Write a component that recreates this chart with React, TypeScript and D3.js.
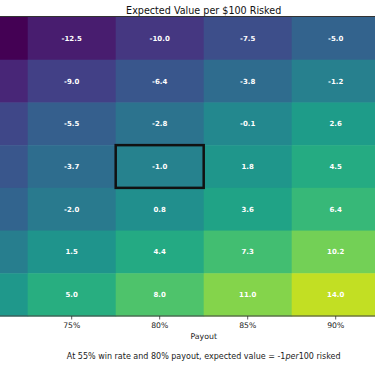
import * as d3 from "d3";

// payout columns (70% and 95% sit partly/fully outside the visible frame)
const payouts = ["70%", "75%", "80%", "85%", "90%", "95%"];
const winRates = ["50%", "52%", "54%", "55%", "56%", "58%", "60%"];

// expected value per $100, one array per win-rate row
const ev50 = [-15.0, -12.5, -10.0, -7.5, -5.0, -2.5];
const ev52 = [-11.6, -9.0, -6.4, -3.8, -1.2, 1.4];
const ev54 = [-8.2, -5.5, -2.8, -0.1, 2.6, 5.3];
const ev55 = [-6.5, -3.7, -1.0, 1.8, 4.5, 7.2];
const ev56 = [-4.8, -2.0, 0.8, 3.6, 6.4, 9.2];
const ev58 = [-1.4, 1.5, 4.4, 7.3, 10.2, 13.1];
const ev60 = [2.0, 5.0, 8.0, 11.0, 14.0, 17.0];
const rows = [ev50, ev52, ev54, ev55, ev56, ev58, ev60];

const highlight = { payout: "80%", winRate: "55%" };

const W = 375;
const H = 366;
const font = "'DejaVu Sans', sans-serif";

export default function App() {
  const x = d3.scaleBand<string>().domain(payouts).range([-60.3, 467.7]);
  const y = d3.scaleBand<string>().domain(winRates).range([17, 316]);
  const color = d3.scaleSequential(d3.interpolateViridis).domain([-15, 17]);
  const cx = (x.range()[0] + x.range()[1]) / 2;
  const mid = (p: string) => x(p)! + x.bandwidth() / 2;
  // only label columns whose centre falls inside the frame
  const shown = payouts.filter((p) => mid(p) - 15 > 0 && mid(p) + 15 < W);

  const cells = rows.flatMap((vals, i) =>
    vals.map((v, j) => ({ row: winRates[i], col: payouts[j], v }))
  );

  return (
    <svg
      width={W}
      height={H}
      style={{ position: "absolute", left: 0, top: 0, background: "#fff" }}
    >
      <text x={cx} y={14} textAnchor="middle" fontFamily={font} fontSize={9.6} fill="#111">
        Expected Value per $100 Risked
      </text>

      {cells.map((d) => (
        <rect
          key={d.row + d.col}
          x={x(d.col)}
          y={y(d.row)}
          width={x.bandwidth() + 0.5}
          height={y.bandwidth() + 0.5}
          fill={color(d.v)}
        />
      ))}

      {cells
        .filter((d) => shown.includes(d.col))
        .map((d) => (
          <text
            key={"t" + d.row + d.col}
            x={mid(d.col)}
            y={y(d.row)! + y.bandwidth() / 2}
            dy="0.35em"
            textAnchor="middle"
            fontFamily={font}
            fontWeight="bold"
            fontSize={7}
            fill="#fff"
          >
            {d.v.toFixed(1)}
          </text>
        ))}

      <rect
        x={x(highlight.payout)}
        y={y(highlight.winRate)}
        width={x.bandwidth()}
        height={y.bandwidth()}
        fill="none"
        stroke="#111"
        strokeWidth={2.5}
      />

      <line x1={0} x2={W} y1={16.5} y2={16.5} stroke="#333" strokeWidth={1} />
      <line x1={0} x2={W} y1={316} y2={316} stroke="#444" strokeWidth={1} />

      {shown.map((p) => (
        <g key={p} transform={`translate(${mid(p)},316)`}>
          <line y1={0} y2={3.5} stroke="#333" strokeWidth={0.8} />
          <text y={12} textAnchor="middle" fontFamily={font} fontSize={7.7} fill="#222">
            {p}
          </text>
        </g>
      ))}

      <text x={cx} y={339} textAnchor="middle" fontFamily={font} fontSize={7.8} fill="#222">
        Payout
      </text>

      <text x={cx} y={358.5} textAnchor="middle" fontFamily={font} fontSize={8} fill="#222">
        At 55% win rate and 80% payout, expected value = -1
        <tspan fontStyle="italic">per</tspan>
        100 risked
      </text>
    </svg>
  );
}
